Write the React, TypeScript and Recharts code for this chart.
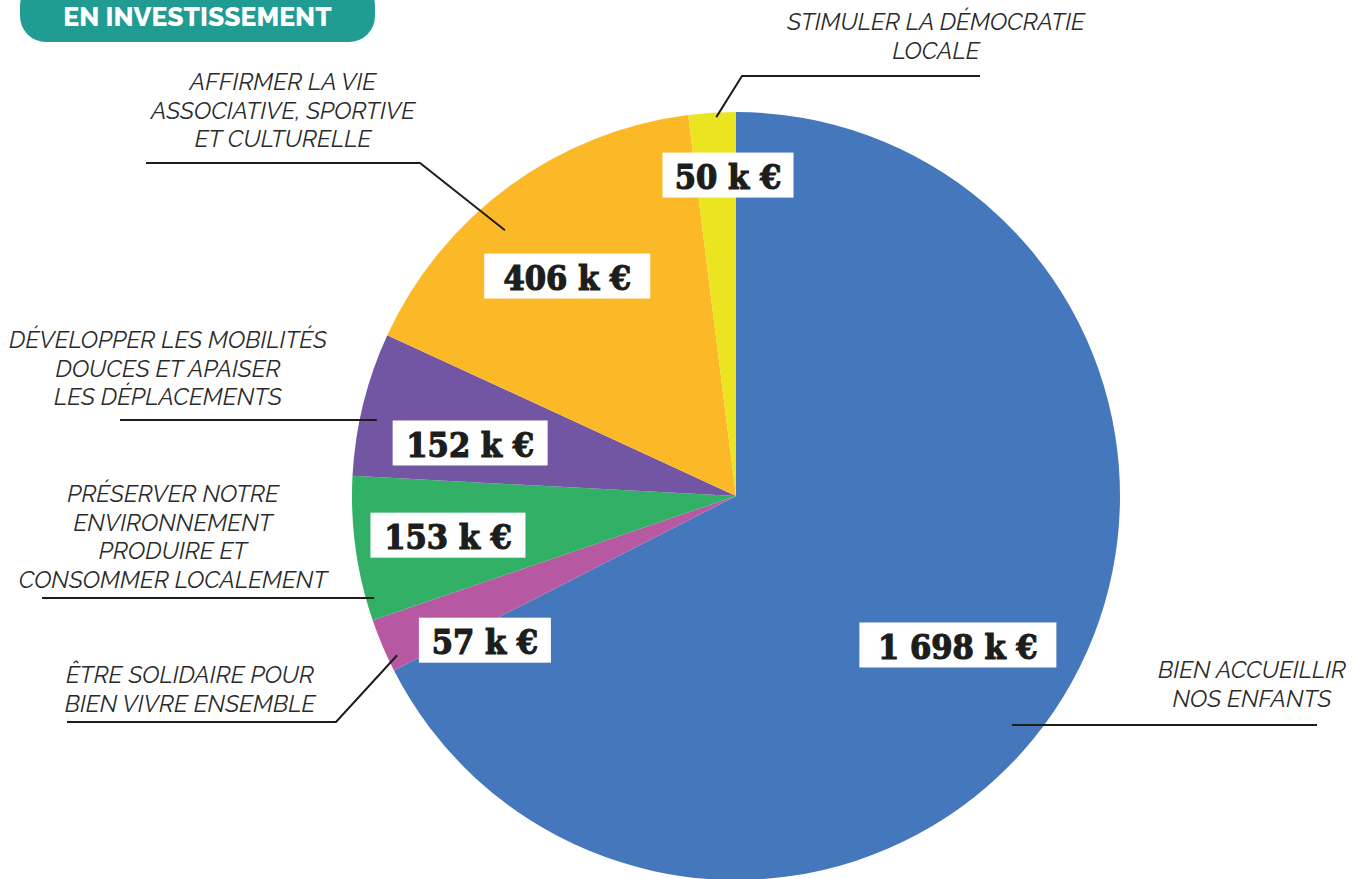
import React from 'react';
import { PieChart, Pie, Cell } from 'recharts';

const categories = [
  'BIEN ACCUEILLIR|NOS ENFANTS',
  'ÊTRE SOLIDAIRE POUR|BIEN VIVRE ENSEMBLE',
  'PRÉSERVER NOTRE|ENVIRONNEMENT|PRODUIRE ET|CONSOMMER LOCALEMENT',
  'DÉVELOPPER LES MOBILITÉS|DOUCES ET APAISER|LES DÉPLACEMENTS',
  'AFFIRMER LA VIE|ASSOCIATIVE, SPORTIVE|ET CULTURELLE',
  'STIMULER LA DÉMOCRATIE|LOCALE',
];
const values = [1698, 57, 153, 152, 406, 50];
const valueLabels = ['1 698 k €', '57 k €', '153 k €', '152 k €', '406 k €', '50 k €'];
const colors = ['#4577BC', '#B659A2', '#32B065', '#7255A3', '#FBB827', '#EBE421'];

const data = categories.map((c, i) => ({ name: c, value: values[i] }));

// annotation layout (relative to slice geometry)
const layout = [
  { vk: 0.696, vda: -2.4, bw: 197, lk: 0.934, lda: -8.2, elbow: null, hx: 1317, tx: 1252, ty: 670 },
  { vk: 0.754, vda: 6.9, bw: 132, lk: 0.975, lda: 2.2, elbow: [336, 722], hx: 67, tx: 190, ty: 675 },
  { vk: 0.757, vda: -0.2, bw: 155, lk: 0.979, lda: 7.8, elbow: null, hx: 42, tx: 173, ty: 494 },
  { vk: 0.706, vda: 2.6, bw: 155, lk: 0.956, lda: 1.93, elbow: null, hx: 120, tx: 168, ty: 340 },
  { vk: 0.722, vda: 1.3, bw: 166, lk: 0.917, lda: 4.8, elbow: [420, 163], hx: 146, tx: 283, ty: 82 },
  { vk: 0.836, vda: -2.15, bw: 131, lk: 0.988, lda: -0.6, elbow: [742, 76], hx: 980, tx: 936, ty: 22 },
];

const RAD = Math.PI / 180;
const polar = (cx: number, cy: number, r: number, a: number) => ({
  x: cx + r * Math.cos(-a * RAD),
  y: cy + r * Math.sin(-a * RAD),
});

const renderLabel = (props: any) => {
  const { cx, cy, midAngle, outerRadius, index } = props;
  const L = layout[index];
  const v = polar(cx, cy, outerRadius * L.vk, midAngle + L.vda);
  const p = polar(cx, cy, outerRadius * L.lk, midAngle + L.lda);
  const e = L.elbow ? { x: L.elbow[0], y: L.elbow[1] } : p;
  const pts = `${p.x},${p.y} ${e.x},${e.y} ${L.hx},${e.y}`;
  const lines = categories[index].split('|');
  return (
    <g key={`lab-${index}`}>
      <polyline points={pts} fill="none" stroke="#1d1d1b" strokeWidth={2} />
      {lines.map((t, j) => (
        <text
          key={j}
          x={L.tx}
          y={L.ty + j * 28.5}
          textAnchor="middle"
          dominantBaseline="central"
          fontFamily="Raleway, Lato, 'Open Sans', sans-serif"
          fontStyle="italic"
          fontSize={23.8}
          fill="#2a2a2a"
        >
          {t}
        </text>
      ))}
      <rect x={v.x - L.bw / 2} y={v.y - 22.5} width={L.bw} height={45} fill="#ffffff" />
      <text
        x={v.x}
        y={v.y + 2}
        textAnchor="middle"
        dominantBaseline="central"
        fontFamily="'DejaVu Serif Condensed', 'DejaVu Serif', serif"
        fontWeight="bold"
        fontSize={34}
        fill="#1d1d1b"
        stroke="#1d1d1b"
        strokeWidth={1.2}
      >
        {valueLabels[index]}
      </text>
    </g>
  );
};

export default function App() {
  return (
    <div style={{ position: 'absolute', left: 0, top: 0, width: 1357, height: 879, background: '#fff', overflow: 'hidden' }}>
      <PieChart width={1357} height={879} margin={{ top: 0, right: 0, bottom: 0, left: 0 }}>
        <Pie
          data={data}
          dataKey="value"
          nameKey="name"
          cx={736}
          cy={496}
          outerRadius={384}
          startAngle={90}
          endAngle={-270}
          stroke="none"
          isAnimationActive={false}
          label={renderLabel}
          labelLine={false}
        >
          {data.map((d, i) => (
            <Cell key={i} fill={colors[i]} />
          ))}
        </Pie>
      </PieChart>
      <div
        style={{
          position: 'absolute',
          left: 20,
          top: -20,
          width: 355,
          height: 62,
          borderRadius: 26,
          background: '#219C93',
          color: '#fff',
          fontFamily: "Raleway, Lato, 'Open Sans', sans-serif",
          fontWeight: 800,
          fontSize: 26.5,
          lineHeight: '62px',
          textAlign: 'center',
          paddingTop: 10,
          boxSizing: 'border-box',
        }}
      >
        <span style={{ position: 'relative', top: -4 }}>EN INVESTISSEMENT</span>
      </div>
    </div>
  );
}
